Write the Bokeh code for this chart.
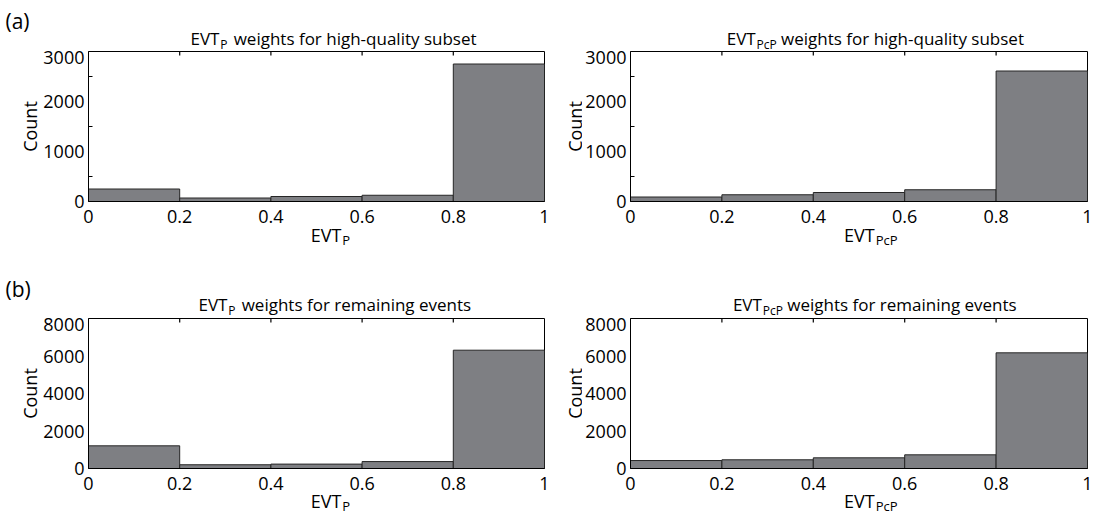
import math
from bokeh.plotting import figure
from bokeh.models import Range1d, FixedTicker, Label
from bokeh.layouts import row, column
from bokeh.embed import file_html
from bokeh.resources import INLINE

# ---------------- data ----------------
bin_edges = [0.0, 0.2, 0.4, 0.6, 0.8, 1.0]
x_ticks = [0.0, 0.2, 0.4, 0.6, 0.8, 1.0]
x_tick_labels = ["0", "0.2", "0.4", "0.6", "0.8", "1"]
top_ticks = [0.2, 0.4, 0.6, 0.8]

counts_hq_p = [250, 70, 100, 125, 2750]
counts_hq_pcp = [90, 135, 180, 235, 2610]
counts_rem_p = [1210, 200, 235, 370, 6310]
counts_rem_pcp = [425, 465, 570, 730, 6170]

y_ticks_top = [0, 1000, 2000, 3000]
y_minor_top = [500, 1500, 2500]
y_ticks_bottom = [0, 2000, 4000, 6000, 8000]

FONT = "Open Sans"
BAR_FILL = "#7e7f83"
BAR_LINE = "#262626"
QW, QH = 552, 257
MID = 0.388  # distance from baseline to middle of the line box, in em


def text_fig(w, h):
    f = figure(width=w, height=h, x_range=Range1d(0, w), y_range=Range1d(h, 0),
               output_backend="svg", toolbar_location=None, title=None,
               x_axis_type=None, y_axis_type=None,
               min_border_left=0, min_border_right=0, min_border_top=0, min_border_bottom=0)
    f.outline_line_color = None
    f.background_fill_color = "white"
    f.border_fill_color = "white"
    return f


def put(f, x, y, text, size, align="left", angle=0.0):
    # (x, y) is the wanted baseline point; anchor the text by its middle
    if angle == 0.0:
        y = y - MID * size
    else:
        x = x - MID * size
    f.add_layout(Label(x=x, y=y, x_units="data", y_units="data", text=text,
                       text_font=FONT, text_font_size=f"{size}px", text_color="black",
                       text_align=align, text_baseline="middle", angle=angle))


def hist_fig(counts, ymax, yticks, yminor, w, H, border_right, bottom_b):
    p = figure(width=w, height=1 + H + bottom_b, x_range=Range1d(0, 1), y_range=Range1d(0, ymax),
               output_backend="svg", toolbar_location=None, title=None,
               min_border_left=47, min_border_right=border_right,
               min_border_top=1, min_border_bottom=bottom_b)
    p.background_fill_color = "white"
    p.border_fill_color = "white"
    p.outline_line_color = "black"
    p.outline_line_width = 1
    p.xgrid.visible = False
    p.ygrid.visible = False

    p.quad(left=bin_edges[:-1], right=bin_edges[1:], bottom=0, top=counts,
           fill_color=BAR_FILL, line_color=BAR_LINE, line_width=1)

    tick_len = 4.0 / H * ymax
    p.segment(x0=top_ticks, x1=top_ticks, y0=[ymax] * len(top_ticks),
              y1=[ymax - tick_len] * len(top_ticks), line_color="black", line_width=1.2)

    xa = p.xaxis[0]
    xa.ticker = FixedTicker(ticks=x_ticks, minor_ticks=[])
    xa.major_label_overrides = dict(zip(x_ticks, x_tick_labels))
    xa.major_tick_in = 0
    xa.major_tick_out = 0
    xa.major_label_standoff = 8
    xa.major_label_text_font = FONT
    xa.major_label_text_font_size = "18px"
    xa.major_label_text_color = "black"
    xa.axis_line_color = "black"

    ya = p.yaxis[0]
    ya.ticker = FixedTicker(ticks=yticks, minor_ticks=yminor)
    ya.major_tick_in = 0
    ya.major_tick_out = 0
    ya.minor_tick_in = 4
    ya.minor_tick_out = 0
    ya.major_label_standoff = 4
    ya.major_label_text_font = FONT
    ya.major_label_text_font_size = "18px"
    ya.major_label_text_color = "black"
    ya.axis_line_color = "black"
    ya.minor_tick_line_color = "black"
    return p


def quadrant(qx, qy, Lt, title_h, H, border_right, bottom_b,
             counts, ymax, yticks, yminor, title_parts, xlabel_parts, count_xy, tag=None):
    col_w = QW - Lt
    lf = text_fig(Lt, QH)
    put(lf, count_xy[0] - qx, count_xy[1] - qy, "Count", 18, "center", math.pi / 2)
    if tag is not None:
        put(lf, tag[0] - qx, tag[1] - qy, tag[2], 21)
    tf = text_fig(col_w, title_h)
    for gx, gy, text, size, align in title_parts:
        put(tf, gx - qx - Lt, gy - qy, text, size, align)
    hp = hist_fig(counts, ymax, yticks, yminor, col_w, H, border_right, bottom_b)
    hist_h = 1 + H + bottom_b
    xh = QH - title_h - hist_h
    xf = text_fig(col_w, xh)
    y0 = qy + title_h + hist_h
    for gx, gy, text, size, align in xlabel_parts:
        put(xf, gx - qx - Lt, gy - y0, text, size, align)
    return row(lf, column(tf, hp, xf))


q1 = quadrant(0, 0, 40, 50, 150, 8, 24, counts_hq_p, 3000, y_ticks_top, y_minor_top,
              [(187, 45, "EVT", 17, "right"), (188, 49, "P", 12, "left"),
               (203, 45, "weights for high-quality subset", 17, "left")],
              [(324, 241, "EVT", 18, "right"), (325, 245, "P", 13, "left")],
              (36, 126), (5, 29, "(a)"))

q2 = quadrant(552, 0, 30, 50, 150, 17, 24, counts_hq_pcp, 3000, y_ticks_top, y_minor_top,
              [(725, 45, "EVT", 17, "right"), (726, 49, "PcP", 12, "left"),
               (754, 45, "weights for high-quality subset", 17, "left")],
              [(861, 241, "EVT", 18, "right"), (862, 245, "PcP", 13, "left")],
              (581, 126))

q3 = quadrant(0, 257, 40, 60, 150, 8, 24, counts_rem_p, 8000, y_ticks_bottom, [],
              [(196, 311, "EVT", 17, "right"), (197, 315, "P", 12, "left"),
               (212, 311, "weights for remaining events", 17, "left")],
              [(324, 507, "EVT", 18, "right"), (325, 511, "P", 13, "left")],
              (36, 393), (5, 297, "(b)"))

q4 = quadrant(552, 257, 30, 60, 150, 17, 24, counts_rem_pcp, 8000, y_ticks_bottom, [],
              [(732, 311, "EVT", 17, "right"), (733, 315, "PcP", 12, "left"),
               (761, 311, "weights for remaining events", 17, "left")],
              [(861, 507, "EVT", 18, "right"), (862, 511, "PcP", 13, "left")],
              (581, 393))

layout = column(row(q1, q2), row(q3, q4))
open("out.html", "w").write(file_html(layout, INLINE))
